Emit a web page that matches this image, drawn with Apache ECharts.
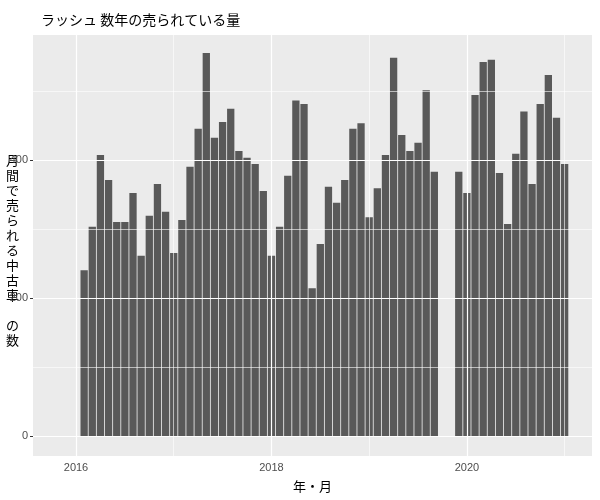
<!DOCTYPE html>
<html><head><meta charset="utf-8">
<script src="https://cdn.jsdelivr.net/npm/echarts@6/dist/echarts.min.js"></script>
<style>html,body{margin:0;padding:0;background:#fff}#c{width:600px;height:500px}</style>
</head><body><div id="c"></div>
<script>
const months1 = ['2016-02','2016-03','2016-04','2016-05','2016-06','2016-07','2016-08','2016-09','2016-10','2016-11','2016-12','2017-01','2017-02','2017-03','2017-04','2017-05','2017-06','2017-07','2017-08','2017-09','2017-10','2017-11','2017-12','2018-01','2018-02','2018-03','2018-04','2018-05','2018-06','2018-07','2018-08','2018-09','2018-10','2018-11','2018-12','2019-01','2019-02','2019-03','2019-04','2019-05','2019-06','2019-07','2019-08','2019-09','2019-12','2020-01','2020-02','2020-03','2020-04','2020-05','2020-06','2020-07','2020-08','2020-09','2020-10','2020-11','2020-12','2021-01'];
const sales = [240,303,407,371,310,310,352,261,319,365,325,265,313,390,445,555,432,455,474,413,403,394,355,261,303,377,486,481,214,278,361,338,371,445,453,317,359,407,548,436,413,425,501,383,383,352,494,542,545,381,307,409,470,365,481,523,461,394];
const xTicks = [2016,2018,2020];
const xGrid = [2016,2017,2018,2019,2020,2021];
const yGrid = [0,100,200,300,400,500];
const toX = s => { const [y,m] = s.split('-').map(Number); return y + (m-1)/12; };
const chart = echarts.init(document.getElementById('c'));
const ytitle = '月\n間\nで\n売\nら\nれ\nる\n中\n古\n車\n \nの\n数';
chart.setOption({
  animation:false,
  title:{text:'ラッシュ 数年の売られている量',left:36,top:8,textStyle:{fontSize:14,fontWeight:'normal',color:'#000',fontFamily:'Noto Sans CJK JP'}},
  grid:{left:33,right:8,top:35,bottom:44,backgroundColor:'#ebebeb',show:true,borderWidth:0},
  xAxis:{type:'value',min:2015.56,max:2021.28,
    name:'年・月',nameLocation:'middle',nameGap:24,nameTextStyle:{fontSize:13,color:'#000',fontFamily:'Noto Sans CJK JP'},
    axisLine:{show:false},splitLine:{show:false},
    axisTick:{show:true,customValues:xTicks,length:3,lineStyle:{color:'#333'}},
    axisLabel:{customValues:xTicks,color:'#4d4d4d',fontSize:11,margin:6,formatter:v=>String(Math.round(v))}},
  yAxis:{type:'value',min:-29,max:581,
    axisLine:{show:false},splitLine:{show:false},
    axisTick:{show:true,customValues:[0,200,400],length:3,lineStyle:{color:'#333'}},
    axisLabel:{customValues:[0,200,400],color:'#4d4d4d',fontSize:11,margin:5}},
  graphic:[{type:'text',left:6,top:'middle',style:{text:ytitle,fontSize:13,lineHeight:15,fill:'#000',align:'center',fontFamily:'Noto Sans CJK JP'}}],
  series:[
    {type:'line',data:[],z:1,silent:true,
      markLine:{silent:true,symbol:'none',label:{show:false},animation:false,
        data:[...xGrid.map(v=>({xAxis:v,lineStyle:{color:'#fff',width:v%2===0?1.2:0.6,type:'solid'}})),
              ...yGrid.map(v=>({yAxis:v,lineStyle:{color:'#fff',width:v%200===0?1.2:0.6,type:'solid'}}))]}},
    {type:'bar',z:2,barWidth:7.3,itemStyle:{color:'#595959'},
      data:months1.map((m,i)=>[toX(m),sales[i]])}
  ]
});
</script></body></html>
